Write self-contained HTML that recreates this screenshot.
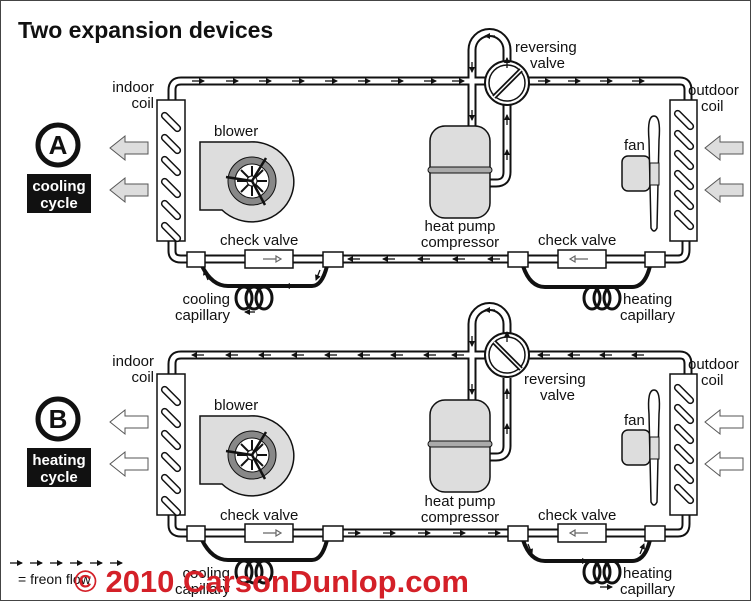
<!DOCTYPE html>
<html><head><meta charset="utf-8"><style>
html,body{margin:0;padding:0;background:#fff}
svg{display:block}
text{font-family:"Liberation Sans",sans-serif;fill:#111}
</style></head><body>
<svg width="751" height="601" viewBox="0 0 751 601" xmlns="http://www.w3.org/2000/svg">
<defs>
<marker id="ah" markerWidth="6" markerHeight="6" refX="5" refY="3" orient="auto" markerUnits="userSpaceOnUse"><path d="M0,0 L6,3 L0,6 Z" fill="#111"/></marker>
</defs>
<rect x="0.5" y="0.5" width="750" height="600" fill="#fff" stroke="#444"/>
<text x="18" y="38" font-size="23" font-weight="bold">Two expansion devices</text>

<g id="A">
  <g fill="none" stroke-linejoin="round">
    <path d="M172,100 V90 Q172,81 181,81 H680 Q688,81 688,90 V100 M172,240 V251 Q172,259 181,259 H678 Q686,259 686,250 V240 M472,126 V50 A17.5,17.5 0 0 1 507,50 V62 M507,104 V172 Q507,183 496,183 H488" stroke="#111" stroke-width="9"/>
    <path d="M172,100 V90 Q172,81 181,81 H680 Q688,81 688,90 V100 M172,240 V251 Q172,259 181,259 H678 Q686,259 686,250 V240 M472,126 V50 A17.5,17.5 0 0 1 507,50 V62 M507,104 V172 Q507,183 496,183 H488" stroke="#fff" stroke-width="5"/>
    <path d="M202,266 Q212,286 228,286 H312 Q322,286 327,266" stroke="#111" stroke-width="4"/>
    <path d="M523,266 Q530,287 545,287 H632 Q645,287 650,266" stroke="#111" stroke-width="4"/>
  </g>
  <g fill="none" stroke="#111" stroke-width="3">
    <ellipse cx="244" cy="298" rx="8" ry="11"/><ellipse cx="254" cy="298" rx="8" ry="11"/><ellipse cx="264" cy="298" rx="8" ry="11"/>
    <ellipse cx="592" cy="298" rx="8" ry="11"/><ellipse cx="602" cy="298" rx="8" ry="11"/><ellipse cx="612" cy="298" rx="8" ry="11"/>
  </g>
  <g fill="#fff" stroke="#111" stroke-width="1.5">
    <rect x="187" y="252" width="18" height="15"/><rect x="323" y="252" width="20" height="15"/>
    <rect x="508" y="252" width="20" height="15"/><rect x="645" y="252" width="20" height="15"/>
    <rect x="245" y="250" width="48" height="18"/><rect x="558" y="250" width="48" height="18"/>
  </g>
  <path d="M263,259 H276 M276,256 L281,259 L276,262 Z" stroke="#666" fill="#fff" stroke-width="1.2"/>
  <path d="M588,259 H575 M575,256 L570,259 L575,262 Z" stroke="#666" fill="#fff" stroke-width="1.2"/>
  <circle cx="507" cy="83" r="22" fill="#fff" stroke="#111" stroke-width="2"/>
  <circle cx="507" cy="83" r="18" fill="none" stroke="#111" stroke-width="1.5"/>
  <path d="M494,97 L521,70" stroke="#111" stroke-width="5"/><path d="M494,97 L521,70" stroke="#fff" stroke-width="1.5"/>
  <rect x="430" y="126" width="60" height="92" rx="15" fill="#ddd" stroke="#111" stroke-width="1.5"/>
  <rect x="428" y="167" width="64" height="6" rx="3" fill="#aaa" stroke="#111"/>
  <rect x="157" y="100" width="28" height="141" fill="#fff" stroke="#111" stroke-width="1.5"/>
  <rect x="670" y="100" width="27" height="141" fill="#fff" stroke="#111" stroke-width="1.5"/>
  <g fill="#fff" stroke="#111" stroke-width="1.5">
    <rect x="159" y="119" width="24" height="6" rx="3" transform="rotate(45 171 122)"/>
    <rect x="159" y="141" width="24" height="6" rx="3" transform="rotate(45 171 144)"/>
    <rect x="159" y="163" width="24" height="6" rx="3" transform="rotate(45 171 166)"/>
    <rect x="159" y="185" width="24" height="6" rx="3" transform="rotate(45 171 188)"/>
    <rect x="159" y="207" width="24" height="6" rx="3" transform="rotate(45 171 210)"/>
    <rect x="159" y="229" width="24" height="6" rx="3" transform="rotate(45 171 232)" />
    <rect x="672" y="117" width="24" height="6" rx="3" transform="rotate(45 684 120)"/>
    <rect x="672" y="137" width="24" height="6" rx="3" transform="rotate(45 684 140)"/>
    <rect x="672" y="157" width="24" height="6" rx="3" transform="rotate(45 684 160)"/>
    <rect x="672" y="177" width="24" height="6" rx="3" transform="rotate(45 684 180)"/>
    <rect x="672" y="197" width="24" height="6" rx="3" transform="rotate(45 684 200)"/>
    <rect x="672" y="217" width="24" height="6" rx="3" transform="rotate(45 684 220)"/>
  </g>
  <path d="M200,142 H248 A42,40 0 1 1 222,210 H200 Z" fill="#ddd" stroke="#111" stroke-width="1.5"/>
  <circle cx="252" cy="181" r="24" fill="#888" stroke="#111"/>
  <circle cx="252" cy="181" r="17" fill="#fff" stroke="#111"/>
  <g stroke="#111" stroke-width="2" fill="none"><path d="M252,166 V196 M237,181 H267 M241,170 L263,192 M263,170 L241,192"/></g>
  <circle cx="252" cy="181" r="5" fill="#fff" stroke="#111"/>
  <path d="M226,177 L252,181 M266,158 L252,181 L265,205" stroke="#111" stroke-width="2.5" fill="none"/>
  <rect x="622" y="156" width="28" height="35" rx="6" fill="#ddd" stroke="#111" stroke-width="1.5"/>
  <path d="M654,116 Q661,116 659,140 L657,228 Q654,234 651,228 L649,140 Q647,116 654,116 Z" fill="#fff" stroke="#111" stroke-width="1.5"/>
  <rect x="650" y="163" width="9" height="22" fill="#ddd" stroke="#111"/>
  <g stroke="#111" stroke-width="1.3" fill="none" marker-end="url(#ah)">
    <path d="M192,81 H204"/><path d="M226,81 H238"/><path d="M259,81 H271"/><path d="M292,81 H304"/><path d="M325,81 H337"/><path d="M358,81 H370"/><path d="M391,81 H403"/><path d="M424,81 H436"/><path d="M452,81 H464"/><path d="M538,81 H550"/><path d="M568,81 H580"/><path d="M600,81 H612"/><path d="M632,81 H644"/>
    <path d="M472,110 V120"/><path d="M472,62 V72"/><path d="M495,36 H485"/><path d="M507,68 V58"/><path d="M507,160 V150"/><path d="M507,125 V115"/>
    <path d="M500,259 H488"/><path d="M465,259 H453"/><path d="M430,259 H418"/><path d="M395,259 H383"/><path d="M360,259 H348"/>
    <path d="M295,286 H285"/><path d="M255,312 H245"/><path d="M320,270 L316,280"/><path d="M208,280 L204,270"/>
  </g>
</g>

<g transform="translate(0,274)">
  <g fill="none" stroke-linejoin="round">
    <path d="M172,100 V90 Q172,81 181,81 H680 Q688,81 688,90 V100 M172,240 V251 Q172,259 181,259 H678 Q686,259 686,250 V240 M472,126 V50 A17.5,17.5 0 0 1 507,50 V62 M507,104 V172 Q507,183 496,183 H488" stroke="#111" stroke-width="9"/>
    <path d="M172,100 V90 Q172,81 181,81 H680 Q688,81 688,90 V100 M172,240 V251 Q172,259 181,259 H678 Q686,259 686,250 V240 M472,126 V50 A17.5,17.5 0 0 1 507,50 V62 M507,104 V172 Q507,183 496,183 H488" stroke="#fff" stroke-width="5"/>
    <path d="M202,266 Q212,286 228,286 H312 Q322,286 327,266" stroke="#111" stroke-width="4"/>
    <path d="M523,266 Q530,287 545,287 H632 Q645,287 650,266" stroke="#111" stroke-width="4"/>
  </g>
  <g fill="none" stroke="#111" stroke-width="3">
    <ellipse cx="244" cy="298" rx="8" ry="11"/><ellipse cx="254" cy="298" rx="8" ry="11"/><ellipse cx="264" cy="298" rx="8" ry="11"/>
    <ellipse cx="592" cy="298" rx="8" ry="11"/><ellipse cx="602" cy="298" rx="8" ry="11"/><ellipse cx="612" cy="298" rx="8" ry="11"/>
  </g>
  <g fill="#fff" stroke="#111" stroke-width="1.5">
    <rect x="187" y="252" width="18" height="15"/><rect x="323" y="252" width="20" height="15"/>
    <rect x="508" y="252" width="20" height="15"/><rect x="645" y="252" width="20" height="15"/>
    <rect x="245" y="250" width="48" height="18"/><rect x="558" y="250" width="48" height="18"/>
  </g>
  <path d="M263,259 H276 M276,256 L281,259 L276,262 Z" stroke="#666" fill="#fff" stroke-width="1.2"/>
  <path d="M588,259 H575 M575,256 L570,259 L575,262 Z" stroke="#666" fill="#fff" stroke-width="1.2"/>
  <circle cx="507" cy="81" r="22" fill="#fff" stroke="#111" stroke-width="2"/>
  <circle cx="507" cy="81" r="18" fill="none" stroke="#111" stroke-width="1.5"/>
  <path d="M494,68 L521,95" stroke="#111" stroke-width="5"/><path d="M494,68 L521,95" stroke="#fff" stroke-width="1.5"/>
  <rect x="430" y="126" width="60" height="92" rx="15" fill="#ddd" stroke="#111" stroke-width="1.5"/>
  <rect x="428" y="167" width="64" height="6" rx="3" fill="#aaa" stroke="#111"/>
  <rect x="157" y="100" width="28" height="141" fill="#fff" stroke="#111" stroke-width="1.5"/>
  <rect x="670" y="100" width="27" height="141" fill="#fff" stroke="#111" stroke-width="1.5"/>
  <g fill="#fff" stroke="#111" stroke-width="1.5">
    <rect x="159" y="119" width="24" height="6" rx="3" transform="rotate(45 171 122)"/>
    <rect x="159" y="141" width="24" height="6" rx="3" transform="rotate(45 171 144)"/>
    <rect x="159" y="163" width="24" height="6" rx="3" transform="rotate(45 171 166)"/>
    <rect x="159" y="185" width="24" height="6" rx="3" transform="rotate(45 171 188)"/>
    <rect x="159" y="207" width="24" height="6" rx="3" transform="rotate(45 171 210)"/>
    <rect x="159" y="229" width="24" height="6" rx="3" transform="rotate(45 171 232)"/>
    <rect x="672" y="117" width="24" height="6" rx="3" transform="rotate(45 684 120)"/>
    <rect x="672" y="137" width="24" height="6" rx="3" transform="rotate(45 684 140)"/>
    <rect x="672" y="157" width="24" height="6" rx="3" transform="rotate(45 684 160)"/>
    <rect x="672" y="177" width="24" height="6" rx="3" transform="rotate(45 684 180)"/>
    <rect x="672" y="197" width="24" height="6" rx="3" transform="rotate(45 684 200)"/>
    <rect x="672" y="217" width="24" height="6" rx="3" transform="rotate(45 684 220)"/>
  </g>
  <path d="M200,142 H248 A42,40 0 1 1 222,210 H200 Z" fill="#ddd" stroke="#111" stroke-width="1.5"/>
  <circle cx="252" cy="181" r="24" fill="#888" stroke="#111"/>
  <circle cx="252" cy="181" r="17" fill="#fff" stroke="#111"/>
  <g stroke="#111" stroke-width="2" fill="none"><path d="M252,166 V196 M237,181 H267 M241,170 L263,192 M263,170 L241,192"/></g>
  <circle cx="252" cy="181" r="5" fill="#fff" stroke="#111"/>
  <path d="M226,177 L252,181 M266,158 L252,181 L265,205" stroke="#111" stroke-width="2.5" fill="none"/>
  <rect x="622" y="156" width="28" height="35" rx="6" fill="#ddd" stroke="#111" stroke-width="1.5"/>
  <path d="M654,116 Q661,116 659,140 L657,228 Q654,234 651,228 L649,140 Q647,116 654,116 Z" fill="#fff" stroke="#111" stroke-width="1.5"/>
  <rect x="650" y="163" width="9" height="22" fill="#ddd" stroke="#111"/>
  <g stroke="#111" stroke-width="1.3" fill="none" marker-end="url(#ah)">
    <path d="M204,81 H192"/><path d="M238,81 H226"/><path d="M271,81 H259"/><path d="M304,81 H292"/><path d="M337,81 H325"/><path d="M370,81 H358"/><path d="M403,81 H391"/><path d="M436,81 H424"/><path d="M464,81 H452"/><path d="M550,81 H538"/><path d="M580,81 H568"/><path d="M612,81 H600"/><path d="M644,81 H632"/>
    <path d="M472,110 V120"/><path d="M472,62 V72"/><path d="M495,36 H485"/><path d="M507,68 V58"/><path d="M507,160 V150"/><path d="M507,125 V115"/>
    <path d="M348,259 H360"/><path d="M383,259 H395"/><path d="M418,259 H430"/><path d="M453,259 H465"/><path d="M488,259 H500"/>
    <path d="M575,287 H587"/><path d="M600,313 H612"/><path d="M528,270 L532,280"/><path d="M640,280 L644,270"/>
  </g>
</g>

<g fill="#ddd" stroke="#555" stroke-width="1">
  <path d="M148,142 H125 V136 L110,148 L125,160 V154 H148 Z"/>
  <path d="M148,184 H125 V178 L110,190 L125,202 V196 H148 Z"/>
  <path d="M743,142 H720 V136 L705,148 L720,160 V154 H743 Z"/>
  <path d="M743,184 H720 V178 L705,190 L720,202 V196 H743 Z"/>
  <path d="M148,416 H125 V410 L110,422 L125,434 V428 H148 Z" fill="#fff"/>
  <path d="M148,458 H125 V452 L110,464 L125,476 V470 H148 Z" fill="#fff"/>
  <path d="M743,416 H720 V410 L705,422 L720,434 V428 H743 Z" fill="#fff"/>
  <path d="M743,458 H720 V452 L705,464 L720,476 V470 H743 Z" fill="#fff"/>
</g>

<circle cx="58" cy="145" r="20" fill="#fff" stroke="#111" stroke-width="5"/>
<text x="58" y="154" font-size="26" font-weight="bold" text-anchor="middle">A</text>
<rect x="27" y="174" width="64" height="39" fill="#111"/>
<text x="59" y="191" font-size="15" font-weight="bold" text-anchor="middle" style="fill:#fff">cooling</text>
<text x="59" y="208" font-size="15" font-weight="bold" text-anchor="middle" style="fill:#fff">cycle</text>
<circle cx="58" cy="419" r="20" fill="#fff" stroke="#111" stroke-width="5"/>
<text x="58" y="428" font-size="26" font-weight="bold" text-anchor="middle">B</text>
<rect x="27" y="448" width="64" height="39" fill="#111"/>
<text x="59" y="465" font-size="15" font-weight="bold" text-anchor="middle" style="fill:#fff">heating</text>
<text x="59" y="482" font-size="15" font-weight="bold" text-anchor="middle" style="fill:#fff">cycle</text>

<g font-size="15">
  <text x="154" y="92" text-anchor="end">indoor</text><text x="154" y="108" text-anchor="end">coil</text>
  <text x="214" y="136">blower</text>
  <text x="220" y="245">check valve</text>
  <text x="460" y="231" text-anchor="middle">heat pump</text><text x="460" y="247" text-anchor="middle">compressor</text>
  <text x="538" y="245">check valve</text>
  <text x="515" y="52">reversing</text><text x="530" y="68">valve</text>
  <text x="688" y="95">outdoor</text><text x="701" y="111">coil</text>
  <text x="624" y="150">fan</text>
  <text x="230" y="304" text-anchor="end">cooling</text><text x="230" y="320" text-anchor="end">capillary</text>
  <text x="623" y="304">heating</text><text x="620" y="320">capillary</text>

  <text x="154" y="366" text-anchor="end">indoor</text><text x="154" y="382" text-anchor="end">coil</text>
  <text x="214" y="410">blower</text>
  <text x="220" y="520">check valve</text>
  <text x="460" y="506" text-anchor="middle">heat pump</text><text x="460" y="522" text-anchor="middle">compressor</text>
  <text x="538" y="520">check valve</text>
  <text x="524" y="384">reversing</text><text x="540" y="400">valve</text>
  <text x="688" y="369">outdoor</text><text x="701" y="385">coil</text>
  <text x="624" y="425">fan</text>
  <text x="230" y="578" text-anchor="end">cooling</text><text x="230" y="594" text-anchor="end">capillary</text>
  <text x="623" y="578">heating</text><text x="620" y="594">capillary</text>

  <text x="18" y="584" font-size="14">= freon flow</text>
</g>
<g stroke="#111" stroke-width="1.3" fill="none" marker-end="url(#ah)">
  <path d="M10,563 H22"/><path d="M30,563 H42"/><path d="M50,563 H62"/><path d="M70,563 H82"/><path d="M90,563 H102"/><path d="M110,563 H122"/>
</g>

<text x="74" y="592" font-size="31" font-weight="bold" style="fill:#d42028">© 2010 CarsonDunlop.com</text>
</svg>
</body></html>
